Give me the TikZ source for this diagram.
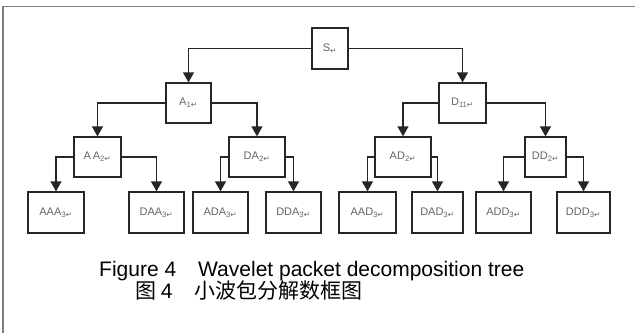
\documentclass[tikz,border=0pt]{standalone}
\usepackage{fontspec}
\setmainfont{Liberation Sans}
\newfontfamily\dejavu{DejaVu Sans}
\newfontfamily\cjk{Noto Sans CJK SC}
\usetikzlibrary{arrows.meta}
\newcommand\retmk{{\dejavu\char"21B5}}
\newcommand\lbl[2]{#1\textsubscript{#2\retmk}}
\begin{document}
\begin{tikzpicture}[x=1pt,y=-1pt,
  box/.style={draw=black!85,line width=1.3pt,inner sep=0pt,font=\fontsize{11}{13}\selectfont,text=black!60},
  conn/.style={draw=black!85,line width=1.3pt,-{Triangle[width=11pt,length=10pt]}},
  captxt/.style={anchor=base west,inner sep=0pt,font=\fontsize{21}{24}\selectfont}]
\useasboundingbox (0,0) rectangle (635,333);
\fill[white] (0,0) rectangle (635,333);
\draw[black!50,line width=1.5pt] (3,333) -- (3,6.5) -- (635,6.5);
% level 0
\node[box,minimum width=36pt,minimum height=41pt] (S) at (330,48.5) {S\textsubscript{\retmk}};
% level 1
\node[box,minimum width=45pt,minimum height=40pt] (A1) at (188.5,103) {\lbl{A}{1}};
\node[box,minimum width=47pt,minimum height=40pt] (D11) at (462.5,103) {\lbl{D}{11}};
% level 2
\node[box,minimum width=47pt,minimum height=40pt] (AA2) at (97.5,157) {\lbl{A\,A}{2}};
\node[box,minimum width=56pt,minimum height=40pt] (DA2) at (257,157) {\lbl{DA}{2}};
\node[box,minimum width=56pt,minimum height=40pt] (AD2) at (403,157) {\lbl{AD}{2}};
\node[box,minimum width=41pt,minimum height=40pt] (DD2) at (545.5,157) {\lbl{DD}{2}};
% level 3
\node[box,minimum width=56pt,minimum height=41pt] (AAA) at (56,212.5) {\lbl{AAA}{3}};
\node[box,minimum width=55pt,minimum height=41pt] (DAA) at (156.5,212.5) {\lbl{DAA}{3}};
\node[box,minimum width=55pt,minimum height=41pt] (ADA) at (220.5,212.5) {\lbl{ADA}{3}};
\node[box,minimum width=55pt,minimum height=41pt] (DDA) at (293.5,212.5) {\lbl{DDA}{3}};
\node[box,minimum width=57pt,minimum height=41pt] (AAD) at (367.5,212.5) {\lbl{AAD}{3}};
\node[box,minimum width=51pt,minimum height=41pt] (DAD) at (437.5,212.5) {\lbl{DAD}{3}};
\node[box,minimum width=55pt,minimum height=41pt] (ADD) at (503.5,212.5) {\lbl{ADD}{3}};
\node[box,minimum width=53pt,minimum height=41pt] (DDD) at (583.5,212.5) {\lbl{DDD}{3}};
% connectors
\draw[conn] (S.west) -| (A1.north);
\draw[conn] (S.east) -| (D11.north);
\draw[conn] (A1.west) -| (AA2.north);
\draw[conn] (A1.east) -| (DA2.north);
\draw[conn] (D11.west) -| (AD2.north);
\draw[conn] (D11.east) -| (DD2.north);
\draw[conn] (AA2.west) -| (AAA.north);
\draw[conn] (AA2.east) -| (DAA.north);
\draw[conn] (DA2.west) -| (ADA.north);
\draw[conn] (DA2.east) -| (DDA.north);
\draw[conn] (AD2.west) -| (AAD.north);
\draw[conn] (AD2.east) -| (DAD.north);
\draw[conn] (DD2.west) -| (ADD.north);
\draw[conn] (DD2.east) -| (DDD.north);
% caption
\node[captxt] (fig) at (99,276) {Figure 4};
\node[captxt] (figt) at (198,276) {Wavelet packet decomposition tree};
\node[captxt,font=\cjk\fontsize{21}{24}\selectfont] (tu) at (135,298) {图 \fontspec{Liberation Sans}4};
\node[captxt,font=\cjk\fontsize{21}{24}\selectfont] (tut) at (194,298) {小波包分解数框图};
\end{tikzpicture}
\end{document}
